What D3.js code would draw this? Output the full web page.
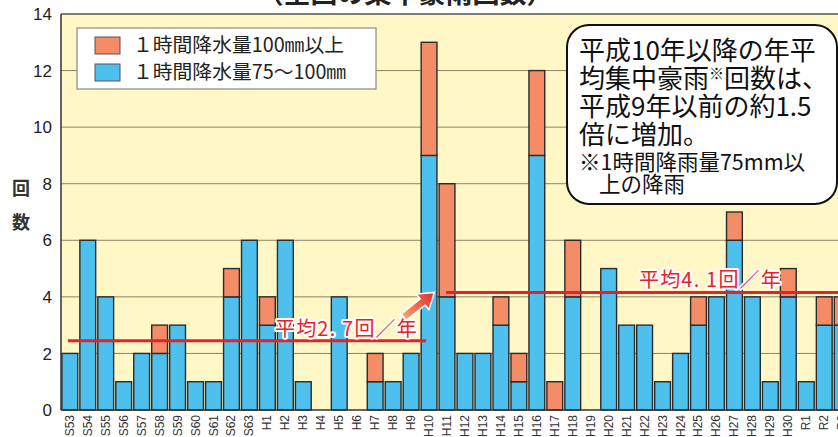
<!DOCTYPE html>
<html>
<head>
<meta charset="utf-8">
<script src="https://cdn.jsdelivr.net/npm/d3@7"></script>
<style>
  html, body { margin: 0; padding: 0; background: #ffffff; }
  svg { display: block; }
  text { font-family: "Noto Sans CJK JP", "Noto Sans", sans-serif; }
</style>
</head>
<body>
<svg id="chart" width="838" height="437"></svg>
<script>
// ---- data ----
const categories = ["S53","S54","S55","S56","S57","S58","S59","S60","S61","S62","S63",
  "H1","H2","H3","H4","H5","H6","H7","H8","H9",
  "H10","H11","H12","H13","H14","H15","H16","H17","H18","H19","H20",
  "H21","H22","H23","H24","H25","H26","H27","H28","H29","H30",
  "R1","R2","R3"];
// 1時間降水量75～100㎜
const count75to100 = [2,6,4,1,2,2,3,1,1,4,6,
  3,6,1,0,4,0,1,1,2,
  9,4,2,2,3,1,9,0,4,0,5,
  3,3,1,2,3,4,6,4,1,4,
  1,3,3];
// 1時間降水量100㎜以上
const count100plus = [0,0,0,0,0,1,0,0,0,1,0,
  1,0,0,0,0,0,1,0,0,
  4,4,0,0,1,1,3,1,2,0,0,
  0,0,0,0,1,0,1,0,0,1,
  0,1,1];
const seriesNames = ["１時間降水量100㎜以上", "１時間降水量75～100㎜"];
const yTicks = [0,2,4,6,8,10,12,14];
// period averages: label text, first/last category, level drawn in the figure
const avgLabels = ["平均2. 7回／年", "平均4. 1回／年"];
const avgStart = ["S53", "H11"];
const avgEnd = ["H10", "R3"];
const avgLevel = [2.45, 4.15];
const titleText = "（全国の集中豪雨回数）";
const calloutLines = ["平成10年以降の年平", "均集中豪雨", "回数は、", "平成9年以前の約1.5", "倍に増加。"];
const noteLines = ["※1時間降雨量75mm以", "上の降雨"];

// ---- drawing ----
const svg = d3.select("#chart");
const colors = { c100: "#f48c68", c75: "#4ec0ee" };
const x = d3.scaleBand().domain(categories).range([61, 851]).paddingInner(0.12).paddingOuter(0.05);
const y = d3.scaleLinear().domain([0, 14]).range([410, 14]);

// plot background
svg.append("rect").attr("x", 61).attr("y", y(14)).attr("width", 838 - 61).attr("height", y(0) - y(14))
  .attr("fill", "#fff8c6");

// gridlines
svg.append("g").selectAll("line").data(yTicks.filter(d => d > 0)).join("line")
  .attr("x1", 61).attr("x2", 838).attr("y1", d => y(d)).attr("y2", d => y(d))
  .attr("stroke", d => d === 14 ? "#555" : "#8c8466").attr("stroke-width", d => d === 14 ? 1.5 : 1);

// y tick labels
svg.append("g").selectAll("text").data(yTicks).join("text")
  .attr("x", 52).attr("y", d => y(d)).attr("dy", "0.36em").attr("text-anchor", "end")
  .style("font-family", "'Liberation Sans', Arial, sans-serif").style("font-size", "17px").attr("fill", "#222")
  .text(d => d);

// y axis title
svg.append("text").attr("x", 21).attr("y", 195).attr("text-anchor", "middle").style("font-size", "18px").style("font-weight", "bold").attr("fill", "#333").text("回");
svg.append("text").attr("x", 21).attr("y", 229).attr("text-anchor", "middle").style("font-size", "18px").style("font-weight", "bold").attr("fill", "#333").text("数");

// stacked bars
const rows = categories.map((c, i) => ({ cat: c, a: count75to100[i], b: count100plus[i] }));
const stacked = d3.stack().keys(["a", "b"])(rows);
const fills = [colors.c75, colors.c100];
svg.append("g").selectAll("g").data(stacked).join("g")
  .attr("fill", (d, i) => fills[i])
  .selectAll("rect").data(d => d.filter(s => s[1] - s[0] > 0)).join("rect")
  .attr("x", d => x(d.data.cat)).attr("width", x.bandwidth())
  .attr("y", d => y(d[1])).attr("height", d => y(d[0]) - y(d[1]))
  .attr("stroke", "#2b2b2b").attr("stroke-width", 1.4);

// axes lines
svg.append("line").attr("x1", 61).attr("x2", 61).attr("y1", y(14)).attr("y2", y(0)).attr("stroke", "#333").attr("stroke-width", 1.5);
svg.append("line").attr("x1", 61).attr("x2", 838).attr("y1", y(0)).attr("y2", y(0)).attr("stroke", "#333").attr("stroke-width", 1.5);

// x labels
svg.append("g").selectAll("text").data(categories).join("text")
  .attr("transform", d => `translate(${x(d) + x.bandwidth() / 2 + 4},415) rotate(-90)`)
  .attr("text-anchor", "end")
  .style("font-family", "'Liberation Sans', Arial, sans-serif").style("font-size", "12px").attr("fill", "#333")
  .text(d => d);

// average lines
avgLabels.forEach((lab, i) => {
  const x1 = x(avgStart[i]) + (i === 0 ? 6 : 7);
  const x2 = i === 0 ? x(avgEnd[i]) + 5 : 845;
  svg.append("line").attr("x1", x1).attr("x2", x2).attr("y1", y(avgLevel[i])).attr("y2", y(avgLevel[i]))
    .attr("stroke", "#e8202a").attr("stroke-width", 3);
});
const labelPos = [{ xEnd: 418, y: 336 }, { xEnd: 782, y: 287 }];
avgLabels.forEach((lab, i) => {
  svg.append("text").attr("x", labelPos[i].xEnd).attr("y", labelPos[i].y).attr("text-anchor", "end")
    .style("font-size", "20px").style("letter-spacing", "1.2px").attr("fill", "#e8202a").style("white-space", "pre")
    .attr("stroke", "#ffffff").attr("stroke-width", 4).attr("paint-order", "stroke").attr("stroke-linejoin", "round")
    .text(lab);
});

// arrow
const defs = svg.append("defs");
const grad = defs.append("linearGradient").attr("id", "arrowGrad").attr("x1", "0").attr("x2", "1").attr("y1", "0").attr("y2", "0");
grad.append("stop").attr("offset", "0").attr("stop-color", "#f6a070");
grad.append("stop").attr("offset", "1").attr("stop-color", "#e8282a");
svg.append("path")
  .attr("d", "M0,-4 L24,-4 L24,-10 L39,0 L24,10 L24,4 L0,4 Z")
  .attr("transform", "translate(404,317) rotate(-39)")
  .attr("fill", "url(#arrowGrad)").attr("stroke", "#ffffff").attr("stroke-width", 1.5);

// legend
const lg = svg.append("g");
lg.append("rect").attr("x", 77).attr("y", 28).attr("width", 299).attr("height", 61).attr("fill", "#ffffff").attr("stroke", "#888").attr("stroke-width", 1.2);
const lgColors = [colors.c100, colors.c75];
seriesNames.forEach((n, i) => {
  lg.append("rect").attr("x", 95).attr("y", 37 + i * 27).attr("width", 25).attr("height", 17)
    .attr("fill", lgColors[i]).attr("stroke", "#555").attr("stroke-width", 1);
  lg.append("text").attr("x", 133).attr("y", 52 + i * 27).style("font-size", "19.8px").attr("fill", "#222").text(n);
});

// title (cut off at top)
svg.append("text").attr("x", 405).attr("y", 3).attr("text-anchor", "middle").style("font-size", "27px").style("font-weight", "bold").attr("fill", "#222").text(titleText);

// callout
const cg = svg.append("g");
cg.append("rect").attr("x", 567).attr("y", 25).attr("width", 270).attr("height", 179).attr("rx", 22).attr("ry", 22)
  .attr("fill", "#ffffff").attr("stroke", "#111").attr("stroke-width", 2);
const cx = 579;
cg.append("text").attr("x", cx).attr("y", 60).style("font-size", "26px").attr("fill", "#111").text(calloutLines[0]);
const l2 = cg.append("text").attr("x", cx).attr("y", 88).style("font-size", "26px").attr("fill", "#111");
l2.append("tspan").text(calloutLines[1]);
l2.append("tspan").attr("dy", -9).style("font-size", "15px").text("※");
l2.append("tspan").attr("dy", 9).text(calloutLines[2]);
cg.append("text").attr("x", cx).attr("y", 116).style("font-size", "26px").attr("fill", "#111").text(calloutLines[3]);
cg.append("text").attr("x", cx).attr("y", 144).style("font-size", "26px").attr("fill", "#111").text(calloutLines[4]);
cg.append("text").attr("x", cx).attr("y", 170).style("font-size", "21.5px").attr("fill", "#111").text(noteLines[0]);
cg.append("text").attr("x", cx + 20).attr("y", 192).style("font-size", "21.5px").attr("fill", "#111").text(noteLines[1]);
</script>
</body>
</html>
